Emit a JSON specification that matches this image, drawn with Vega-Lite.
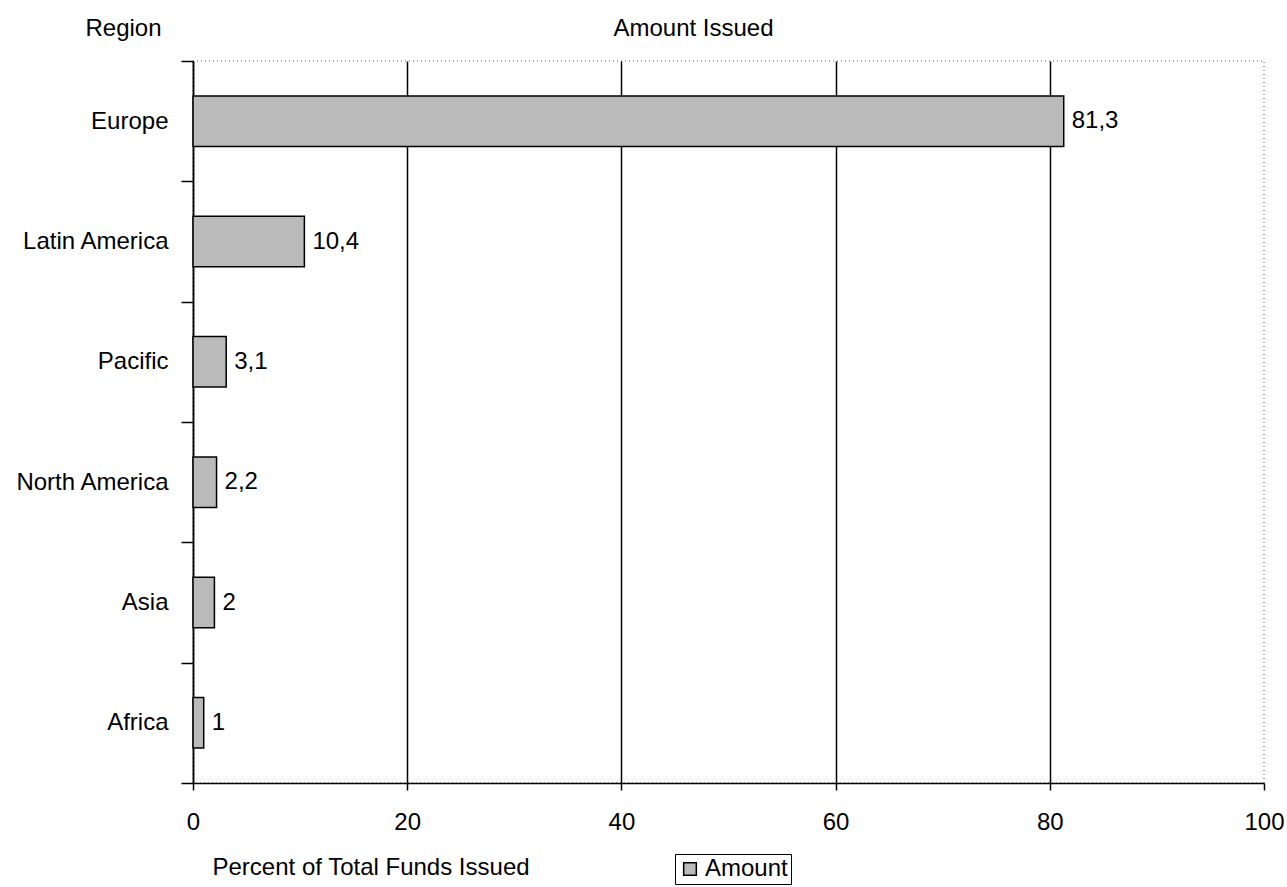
{
  "$schema": "https://vega.github.io/schema/vega-lite/v6.json",
  "width": 1071,
  "height": 722,
  "autosize": "none",
  "padding": {"left": 193, "top": 61, "right": 23, "bottom": 104},
  "background": "white",
  "data": {
    "values": [
      {"region": "Europe", "amount": 81.3},
      {"region": "Latin America", "amount": 10.4},
      {"region": "Pacific", "amount": 3.1},
      {"region": "North America", "amount": 2.2},
      {"region": "Asia", "amount": 2},
      {"region": "Africa", "amount": 1}
    ]
  },
  "encoding": {
    "y": {
      "field": "region",
      "type": "nominal",
      "sort": null,
      "scale": {"paddingInner": 0, "paddingOuter": 0},
      "axis": {
        "title": "Region",
        "titleAngle": 0,
        "titleX": -70,
        "titleY": -26,
        "titleAlign": "center",
        "titleBaseline": "alphabetic",
        "titleFontSize": 24,
        "titleFontWeight": "normal",
        "titleFont": "Liberation Sans",
        "titleColor": "black",
        "tickBand": "extent",
        "tickSize": 12,
        "tickColor": "black",
        "tickWidth": 1.5,
        "domainColor": "black",
        "domainWidth": 1.5,
        "labelFontSize": 24,
        "labelFont": "Liberation Sans",
        "labelColor": "black",
        "labelPadding": 13,
        "grid": false
      }
    },
    "x": {
      "field": "amount",
      "type": "quantitative",
      "scale": {"domain": [0, 100], "nice": false}
    }
  },
  "layer": [
    {
      "mark": {"type": "bar", "fill": "#bababa", "stroke": "black", "strokeWidth": 1.5, "height": {"band": 0.42}},
      "encoding": {
        "color": {"datum": "Amount", "type": "nominal", "scale": {"range": ["#bababa"]},
          "legend": {
            "title": null,
            "orient": "none",
            "legendX": 482,
            "legendY": 793,
            "strokeColor": "black",
            "fillColor": "white",
            "padding": 3,
            "symbolType": "square",
            "symbolSize": 160,
            "symbolStrokeColor": "black",
            "symbolStrokeWidth": 1.5,
            "labelFontSize": 24,
            "labelFont": "Liberation Sans",
            "labelColor": "black",
            "labelOffset": 3
          }
        },
        "x": {
          "field": "amount",
          "type": "quantitative",
          "scale": {"domain": [0, 100], "nice": false},
          "axis": {
            "title": "Percent of Total Funds Issued",
            "titleX": 19,
            "titleY": 91,
            "titleAlign": "left",
            "titleBaseline": "alphabetic",
            "titleFontSize": 24,
            "titleFontWeight": "normal",
            "titleFont": "Liberation Sans",
            "titleColor": "black",
            "values": [0, 20, 40, 60, 80, 100],
            "tickSize": 7,
            "tickColor": "black",
            "tickWidth": 1.5,
            "domainColor": "black",
            "domainWidth": 1.5,
            "labelFontSize": 24,
            "labelFont": "Liberation Sans",
            "labelColor": "black",
            "labelPadding": 20,
            "labelFlush": false,
            "grid": true,
            "gridColor": {"condition": {"test": "datum.value === 100", "value": "transparent"}, "value": "black"},
            "gridWidth": 1.5,
            "gridOpacity": 1
          }
        }
      }
    },
    {
      "mark": {"type": "text", "align": "left", "baseline": "middle", "dx": 8, "fontSize": 24, "font": "Liberation Sans", "color": "black"},
      "encoding": {
        "text": {"field": "amount", "type": "quantitative", "format": ".1~f"},
        "x": {
          "field": "amount",
          "type": "quantitative",
          "scale": {"domain": [0, 100], "nice": false},
          "axis": {
            "orient": "top",
            "title": "Amount Issued",
            "titleX": 500,
            "titleY": -26,
            "titleAlign": "center",
            "titleBaseline": "alphabetic",
            "titleFontSize": 24,
            "titleFontWeight": "normal",
            "titleFont": "Liberation Sans",
            "titleColor": "black",
            "labels": false,
            "ticks": false,
            "domain": false,
            "grid": false
          }
        }
      }
    }
  ],
  "resolve": {"axis": {"x": "independent"}},
  "config": {
    "locale": {
      "number": {"decimal": ",", "thousands": ".", "grouping": [3], "currency": ["", " €"]}
    },
    "view": {"stroke": "#8a8a8a", "strokeDash": [1, 3], "strokeWidth": 1.5},
    "font": "Liberation Sans"
  }
}
